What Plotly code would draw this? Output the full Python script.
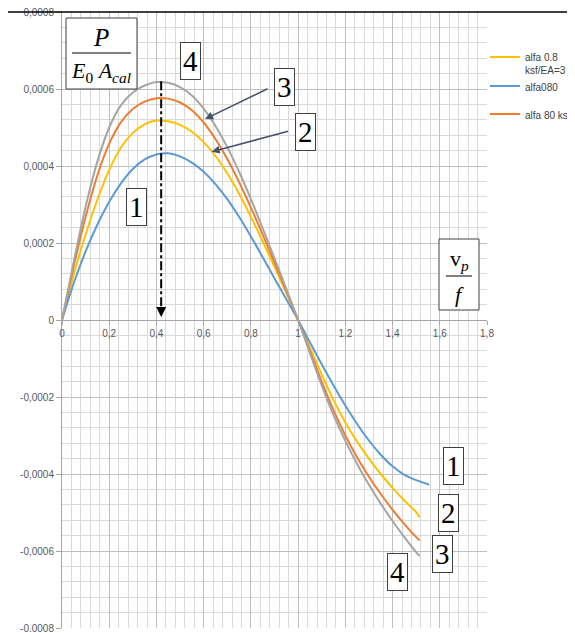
import plotly.graph_objects as go

# ---- data ----
x_common = [0, 0.05, 0.1, 0.15, 0.2, 0.25, 0.3, 0.35, 0.4, 0.45, 0.5, 0.55, 0.6, 0.65, 0.7,
            0.75, 0.8, 0.85, 0.9, 0.95, 1.0, 1.05, 1.1, 1.15, 1.2, 1.25, 1.3, 1.35, 1.4, 1.45, 1.5]

x_blue = x_common + [1.555]
y_blue = [0, 0.000096, 0.000178, 0.000248, 0.000307, 0.000355, 0.000392, 0.000417, 0.000430, 0.000433,
          0.000425, 0.000409, 0.000385, 0.000353, 0.000314, 0.000268, 0.000217, 0.000163, 0.000108, 0.000054,
          0, -0.000058, -0.000115, -0.000170, -0.000222, -0.000270, -0.000313, -0.000350, -0.000380, -0.000402,
          -0.000416, -0.000428]

x_yellow = x_common + [1.514]
y_yellow = [0, 0.000118, 0.000222, 0.000313, 0.000390, 0.000448, 0.000486, 0.000508, 0.000518, 0.000516,
            0.000507, 0.000489, 0.000462, 0.000426, 0.000381, 0.000328, 0.000268, 0.000204, 0.000138, 0.000070,
            0, -0.000072, -0.000142, -0.000208, -0.000266, -0.000316, -0.000360, -0.000400, -0.000436, -0.000469,
            -0.000499, -0.000512]

x_orange = x_common + [1.514]
y_orange = [0, 0.000140, 0.000268, 0.000376, 0.000458, 0.000514, 0.000548, 0.000567, 0.000576, 0.000575,
            0.000565, 0.000545, 0.000513, 0.000470, 0.000418, 0.000358, 0.000292, 0.000222, 0.000149, 0.000075,
            0, -0.000080, -0.000160, -0.000234, -0.000300, -0.000357, -0.000407, -0.000452, -0.000493, -0.000530,
            -0.000564, -0.000572]

x_gray = x_common + [1.515]
y_gray = [0, 0.000152, 0.000294, 0.000412, 0.000500, 0.000558, 0.000591, 0.000609, 0.000618, 0.000616,
          0.000605, 0.000583, 0.000549, 0.000504, 0.000449, 0.000385, 0.000314, 0.000238, 0.000160, 0.000081,
          0, -0.000086, -0.000170, -0.000247, -0.000314, -0.000374, -0.000428, -0.000477, -0.000522, -0.000564,
          -0.000603, -0.000613]

peak_x = [0.42, 0.42]
peak_y = [0.00062, 0.00003]

x_tickvals = [0, 0.2, 0.4, 0.6, 0.8, 1.0, 1.2, 1.4, 1.6, 1.8]
x_ticktext = ["0", "0,2", "0,4", "0,6", "0,8", "1", "1,2", "1,4", "1,6", "1,8"]
y_tickvals = [0.0008, 0.0006, 0.0004, 0.0002, 0, -0.0002, -0.0004, -0.0006, -0.0008]
y_ticktext = ["0,0008", "0,0006", "0,0004", "0,0002", "0", "-0,0002", "-0,0004", "-0,0006", "-0.0008"]

names = ["alfa 0.8<br>ksf/EA=3", "alfa080", "alfa 80 ks5", "alfa 80 ks10"]
colors = ["#FFC000", "#5B9BD5", "#ED7D31", "#A5A5A5"]
groups = ["g1", "g1", "g2", "g3"]

fig = go.Figure()
series = [(x_yellow, y_yellow), (x_blue, y_blue), (x_orange, y_orange), (x_gray, y_gray)]
for i, (xs, ys) in enumerate(series):
    fig.add_trace(go.Scatter(x=xs, y=ys, mode="lines", name=names[i], legendgroup=groups[i],
                             line=dict(color=colors[i], width=2, shape="spline", smoothing=0.8),
                             showlegend=(i < 3)))

fig.add_trace(go.Scatter(x=peak_x, y=peak_y, mode="lines", showlegend=False,
                         line=dict(color="black", width=2, dash="dashdot")))

# the page body adds an 8px offset; figure is sized so that it ends at the window edge
OFF = 8
W, H = 575 - OFF, 633 - OFF
L, R, T, B = 62 - OFF, 88, 12 - OFF, 5
pw, ph = W - L - R, H - T - B


def px(sx):
    return (sx - OFF - L) / pw


def py(sy):
    return (H - B - (sy - OFF)) / ph


serif = "Liberation Serif"
annotations = []
shapes = []

# fraction box P / (E0 Acal)
shapes.append(dict(type="rect", xref="paper", yref="paper", x0=px(66), x1=px(137), y0=py(89), y1=py(18),
                   line=dict(color="#404040", width=1), fillcolor="white", layer="above"))
shapes.append(dict(type="line", xref="paper", yref="paper", x0=px(72), x1=px(131), y0=py(53), y1=py(53),
                   line=dict(color="black", width=1), layer="above"))
annotations.append(dict(xref="paper", yref="paper", x=px(101), y=py(37), text="<i>P</i>", showarrow=False,
                        xanchor="center", yanchor="middle",
                        font=dict(family=serif, size=25, color="black")))
annotations.append(dict(xref="paper", yref="paper", x=px(101), y=py(72),
                        text="<i>E</i><sub>0</sub> <i>A<sub>cal</sub></i>", showarrow=False,
                        xanchor="center", yanchor="middle",
                        font=dict(family=serif, size=22, color="black")))

# v_p / f box
shapes.append(dict(type="rect", xref="paper", yref="paper", x0=px(439), x1=px(479), y0=py(310), y1=py(239),
                   line=dict(color="#404040", width=1), fillcolor="white", layer="above"))
shapes.append(dict(type="line", xref="paper", yref="paper", x0=px(446), x1=px(472), y0=py(276), y1=py(276),
                   line=dict(color="black", width=1), layer="above"))
annotations.append(dict(xref="paper", yref="paper", x=px(459), y=py(260), text="v<sub><i>p</i></sub>",
                        showarrow=False, xanchor="center", yanchor="middle",
                        font=dict(family=serif, size=22, color="black")))
annotations.append(dict(xref="paper", yref="paper", x=px(459), y=py(294), text="<i>f</i>",
                        showarrow=False, xanchor="center", yanchor="middle",
                        font=dict(family=serif, size=22, color="black")))

# numbered boxes
boxes = [("4", 190, 61), ("3", 284, 87), ("2", 305, 132), ("1", 136, 207),
         ("1", 453, 466), ("2", 448, 513), ("3", 442, 554), ("4", 397, 572)]
for t, bx, by in boxes:
    annotations.append(dict(xref="paper", yref="paper", x=px(bx), y=py(by), text=t, showarrow=False,
                            xanchor="center", yanchor="middle",
                            font=dict(family=serif, size=29, color="black"),
                            bordercolor="#404040", borderwidth=1, borderpad=2, bgcolor="white"))

# arrows
annotations.append(dict(xref="x", yref="y", x=0.606, y=0.000522, ax=64, ay=-31, text="", showarrow=True,
                        arrowhead=2, arrowsize=1, arrowwidth=1.6, arrowcolor="#44546A"))
annotations.append(dict(xref="x", yref="y", x=0.634, y=0.000437, ax=78, ay=-21, text="", showarrow=True,
                        arrowhead=2, arrowsize=1, arrowwidth=1.6, arrowcolor="#44546A"))
annotations.append(dict(xref="x", yref="y", x=0.42, y=0.000008, ax=0, ay=-8, text="", showarrow=True,
                        arrowhead=2, arrowsize=1, arrowwidth=2, arrowcolor="black"))

# top black line
shapes.append(dict(type="line", xref="paper", yref="paper", x0=px(OFF), x1=px(575), y0=1, y1=1,
                   line=dict(color="black", width=1.5)))

tickfont = dict(family="Liberation Sans", size=10, color="#595959")
fig.update_layout(
    width=W, height=H,
    margin=dict(l=L, r=R, t=T, b=B, pad=0, autoexpand=False),
    paper_bgcolor="white", plot_bgcolor="white",
    xaxis=dict(range=[0, 1.8], tickvals=x_tickvals, ticktext=x_ticktext, tickfont=tickfont,
               showgrid=True, gridcolor="#BFBFBF", gridwidth=1,
               minor=dict(dtick=0.04, showgrid=True, gridcolor="#D9D9D9", gridwidth=1, tick0=0),
               anchor="free", position=0.5, showline=True, linecolor="#A6A6A6", linewidth=1,
               ticks="outside", ticklen=4, tickcolor="#A6A6A6", zeroline=False, fixedrange=True,
               ticklabeloverflow="allow"),
    yaxis=dict(range=[-0.0008, 0.0008], tickvals=y_tickvals, ticktext=y_ticktext, tickfont=tickfont,
               showgrid=True, gridcolor="#BFBFBF", gridwidth=1,
               minor=dict(dtick=0.00004, showgrid=True, gridcolor="#D9D9D9", gridwidth=1, tick0=0),
               showline=True, linecolor="#A6A6A6", linewidth=1, ticks="outside", ticklen=5,
               tickcolor="#A6A6A6", zeroline=False, fixedrange=True, ticklabeloverflow="allow"),
    legend=dict(x=px(485), y=py(44), xanchor="left", yanchor="top", bgcolor="rgba(0,0,0,0)",
                font=dict(family="Liberation Sans", size=10, color="#404040"), valign="top",
                itemwidth=30, tracegroupgap=9),
    shapes=shapes, annotations=annotations,
)

fig.write_html("out.html")
